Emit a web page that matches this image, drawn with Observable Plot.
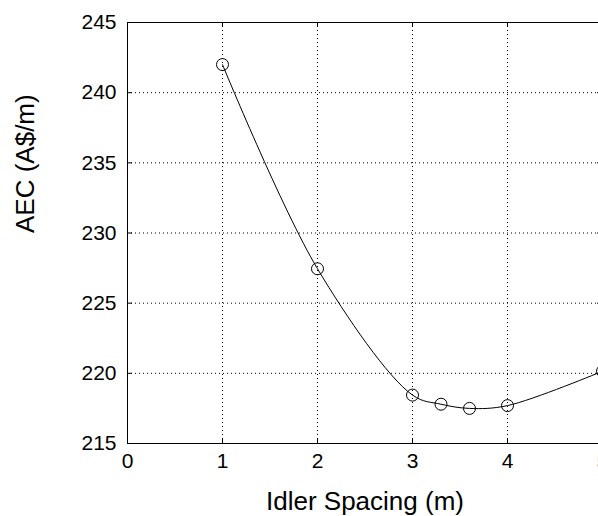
<!DOCTYPE html>
<html>
<head>
<meta charset="utf-8">
<script src="https://cdn.jsdelivr.net/npm/d3@7"></script>
<script src="https://cdn.jsdelivr.net/npm/@observablehq/plot@0.6"></script>
<style>
  html, body { margin: 0; padding: 0; background: #fff; overflow: hidden; }
  svg { display: block; }
</style>
</head>
<body>
<div id="chart"></div>
<script>
const spacing = [1, 2, 3, 3.3, 3.6, 4, 5];
const aec = [242.0, 227.45, 218.45, 217.8, 217.5, 217.7, 220.15];
const xTicks = [0, 1, 2, 3, 4, 5];
const yTicks = [215, 220, 225, 230, 235, 240, 245];
const xLabel = "Idler Spacing (m)";
const yLabel = "AEC (A$/m)";

const data = spacing.map((x, i) => ({x, y: aec[i]}));
const font = "Liberation Sans, Arial, Helvetica, sans-serif";

const chart = Plot.plot({
  width: 598,
  height: 516,
  marginLeft: 127,
  marginTop: 22,
  marginBottom: 73,
  marginRight: -4,
  style: {fontFamily: font, background: "#fff", color: "#000"},
  x: {domain: [0, 5], ticks: xTicks},
  y: {domain: [215, 245], ticks: yTicks},
  marks: [
    Plot.gridX(xTicks, {stroke: "#000", strokeOpacity: 1, strokeDasharray: "1,3", strokeWidth: 1}),
    Plot.gridY(yTicks, {stroke: "#000", strokeOpacity: 1, strokeDasharray: "1,3", strokeWidth: 1}),
    Plot.ruleX(xTicks, {x: d => d, insetTop: 416, stroke: "#000"}),
    Plot.ruleX(xTicks, {x: d => d, insetBottom: 416, stroke: "#000"}),
    Plot.ruleY(yTicks, {y: d => d, insetRight: 470, stroke: "#000"}),
    Plot.ruleY(yTicks, {y: d => d, insetLeft: 470, stroke: "#000"}),
    Plot.frame({stroke: "#000", strokeWidth: 1}),
    Plot.axisX(xTicks, {tickSize: 0, tickPadding: 10, fontSize: 21, label: null, fill: "#000"}),
    Plot.axisY(yTicks, {tickSize: 0, tickPadding: 11, fontSize: 21, label: null, fill: "#000"}),
    Plot.line(data, {x: "x", y: "y", curve: "catmull-rom", stroke: "#000", strokeWidth: 1}),
    Plot.dot(data, {x: "x", y: "y", r: 6, stroke: "#000", fill: "none", strokeWidth: 1}),
    Plot.text([xLabel], {frameAnchor: "bottom", dy: 58, fontSize: 26, fill: "#000", lineAnchor: "middle"}),
    Plot.text([yLabel], {frameAnchor: "left", dx: -102, rotate: -90, fontSize: 26, fill: "#000", lineAnchor: "middle"})
  ]
});
document.getElementById("chart").appendChild(chart);
</script>
</body>
</html>
